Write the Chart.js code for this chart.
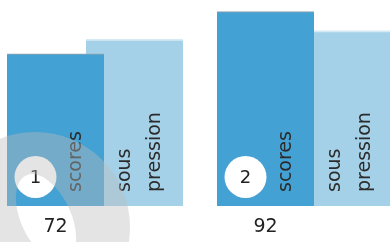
<!DOCTYPE html>
<html>
<head>
<meta charset="utf-8">
<script src="https://cdn.jsdelivr.net/npm/chart.js@4"></script>
<style>
  body { margin: 0; background: #fff; }
  #cadre { width: 390px; height: 242px; position: relative; }
</style>
</head>
<body>
<div id="cadre"><canvas id="graphique"></canvas></div>
<script>
// Données
const categories = ['72', '92'];
const rangs = ['1', '2'];
const scores = [72, 92];
const sousPression = [79, 83];
const etiquettes = [['scores'], ['sous', 'pression']];

const decalage = 0.376; // décalage des barres claires par rapport aux foncées

// Texte vertical dans les barres + pastilles numérotées
const textesBarres = {
  id: 'textesBarres',
  afterDatasetsDraw(chart) {
    const ctx = chart.ctx;
    ctx.save();
    chart.data.datasets.forEach((ds, d) => {
      const lignes = etiquettes[d];
      chart.getDatasetMeta(d).data.forEach((barre) => {
        const bas = barre.base;
        lignes.forEach((txt, l) => {
          ctx.save();
          ctx.translate(barre.x + 25.5 - (lignes.length - 1 - l) * 30, bas - 14);
          ctx.rotate(-Math.PI / 2);
          ctx.font = '19px "DejaVu Sans"';
          ctx.fillStyle = '#2b2b2b';
          ctx.textAlign = 'left';
          ctx.textBaseline = 'alphabetic';
          ctx.fillText(txt, 0, 0);
          ctx.restore();
        });
      });
    });
    // pastilles
    chart.getDatasetMeta(0).data.forEach((barre, i) => {
      const cx = barre.x - 20, cy = barre.base - 29;
      ctx.beginPath();
      ctx.arc(cx, cy, 21, 0, Math.PI * 2);
      ctx.fillStyle = '#fff';
      ctx.fill();
      ctx.font = '18px "DejaVu Sans"';
      ctx.fillStyle = '#222';
      ctx.textAlign = 'center';
      ctx.textBaseline = 'middle';
      ctx.fillText(rangs[i], cx, cy + 1);
    });
    ctx.restore();
  }
};

// Filigrane gris en bas à gauche
const filigrane = {
  id: 'filigrane',
  afterDraw(chart) {
    const ctx = chart.ctx;
    ctx.save();
    ctx.beginPath();
    ctx.arc(35, 227, 95, 0, Math.PI * 2);
    ctx.moveTo(46 + 47 * Math.cos(65 * Math.PI / 180), 218 + 47 * Math.sin(65 * Math.PI / 180));
    ctx.ellipse(46, 218, 47, 25, 65 * Math.PI / 180, 0, Math.PI * 2);
    ctx.fillStyle = 'rgba(187,187,187,0.4)';
    ctx.fill('evenodd');
    ctx.restore();
  }
};

new Chart(document.getElementById('graphique'), {
  type: 'bar',
  data: {
    datasets: [{
      label: 'scores',
      data: scores.map((v, i) => ({ x: i, y: v })),
      backgroundColor: '#44a1d3',
      borderColor: '#97a4ab',
      borderWidth: { top: 1, left: 0, right: 0, bottom: 0 },
      borderSkipped: false,
      grouped: false,
      barThickness: 97
    }, {
      label: 'sous pression',
      data: sousPression.map((v, i) => ({ x: i + decalage, y: v })),
      backgroundColor: '#a4d1e8',
      borderColor: '#d6eaf4',
      borderWidth: { top: 2, left: 0, right: 0, bottom: 0 },
      borderSkipped: false,
      grouped: false,
      barThickness: 97
    }]
  },
  options: {
    responsive: true,
    maintainAspectRatio: false,
    animation: false,
    layout: { padding: 0 },
    plugins: { legend: { display: false }, tooltip: { enabled: false } },
    scales: {
      x: {
        type: 'linear',
        offset: false,
        min: -55.5 / 210,
        max: -55.5 / 210 + 390 / 210,
        grid: { display: false, drawTicks: false, offset: false },
        border: { display: false },
        afterBuildTicks: (axe) => { axe.ticks = categories.map((c, i) => ({ value: i })); },
        afterFit: (axe) => { axe.height = 36; },
        ticks: {
          padding: 10,
          color: '#222',
          font: { family: 'DejaVu Sans', size: 19 },
          callback: (v) => categories[v]
        }
      },
      y: {
        display: false,
        min: 0,
        max: 97.5
      }
    }
  },
  plugins: [textesBarres, filigrane]
});
</script>
</body>
</html>
